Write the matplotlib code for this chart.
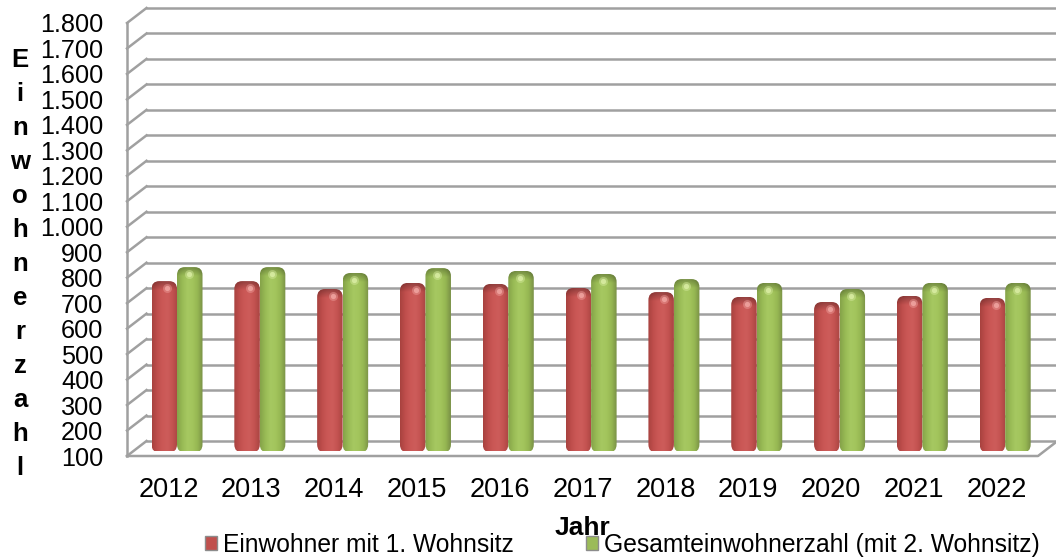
import numpy as np
import matplotlib
matplotlib.use("Agg")
import matplotlib.pyplot as plt
from matplotlib.colors import LinearSegmentedColormap
from matplotlib.patches import FancyBboxPatch, Patch

plt.rcParams["font.family"] = ["Liberation Sans", "DejaVu Sans"]

# Datos
years = ["2012", "2013", "2014", "2015", "2016", "2017", "2018", "2019", "2020", "2021", "2022"]
erstwohnsitz = [765, 765, 734, 758, 754, 738, 722, 703, 683, 707, 699]
gesamt = [820, 820, 797, 816, 805, 793, 773, 758, 734, 758, 758]
y_ticks = list(range(100, 1900, 100))
y_labels = [f"{v:,}".replace(",", ".") for v in y_ticks]
y_title = "Einwohnerzahl"
x_title = "Jahr"
series_names = ["Einwohner mit 1. Wohnsitz", "Gesamteinwohnerzahl (mit 2. Wohnsitz)"]

W, H = 1056, 557
fig = plt.figure(figsize=(W / 100, H / 100), dpi=100)
ax = fig.add_axes([127 / W, 1 - 456 / H, (1038 - 127) / W, (456 - 23) / H])
ax.set_xlim(-0.5, 10.5)
ax.set_ylim(100, 1800)

px_x = (1038 - 127) / 11
px_y = (456 - 23) / 1700

# Rejilla con profundidad
gray = "#a0a0a0"
back_x = 19.5 / px_x
back_y = 15 / px_y
for t in y_ticks:
    ax.plot([-0.5 + back_x, 10.5 + back_x], [t + back_y, t + back_y], color=gray, lw=1.8, clip_on=False, zorder=1)
    ax.plot([-0.5, -0.5 + back_x], [t, t + back_y], color=gray, lw=1.8, clip_on=False, zorder=1)
ax.plot([-0.5, -0.5], [100, 1800], color=gray, lw=1.8, clip_on=False, zorder=2)
ax.plot([-0.5, 10.5, 10.5 + back_x], [100, 100, 100 + back_y], color=gray, lw=1.8, clip_on=False, zorder=2)

# Barras tipo cilindro
red_cmap = LinearSegmentedColormap.from_list("r", ["#a8423f", "#bf4e4c", "#cb5856", "#cd5c5a", "#c35250", "#a94542"])
green_cmap = LinearSegmentedColormap.from_list("g", ["#85a349", "#98ba55", "#a6c861", "#a3c55d", "#96b752", "#7a9147"])
grad = np.linspace(0, 1, 64).reshape(1, -1)
cap = np.zeros((32, 1, 4))
cap[:, 0, 3] = np.linspace(0.28, 0, 32)

bar_w = 25.5 / px_x
bar_dx = 8.6 / px_x
bar_dy = 5.5 / px_y
rx = 8 / px_x
cap_h = 9 / px_y
foot = 2 / px_y


def draw_bar(x0, value, cmap, shine, shine_at, z):
    top = value + bar_dy
    base = 100 + bar_dy
    # la forma baja un poco bajo la base para que el pie quede casi plano
    shape = FancyBboxPatch((x0, base - foot), bar_w, top - base + foot, boxstyle=f"round,pad=0,rounding_size={rx}",
                           mutation_aspect=px_x / px_y, transform=ax.transData, fc="none", ec="none")
    ax.add_patch(shape)
    im = ax.imshow(grad, cmap=cmap, extent=[x0, x0 + bar_w, base, top], aspect="auto",
                   interpolation="bilinear", zorder=z)
    im.set_clip_path(shape)
    im2 = ax.imshow(cap, extent=[x0, x0 + bar_w, top - cap_h, top], aspect="auto",
                    interpolation="bilinear", zorder=z + 0.05)
    im2.set_clip_path(shape)
    sx = x0 + bar_w * shine_at
    sy = top - 7 / px_y
    ax.scatter([sx], [sy], s=42, color=shine, alpha=0.4, linewidths=0, zorder=z + 0.1)
    ax.scatter([sx], [sy], s=14, color=shine, alpha=0.8, linewidths=0, zorder=z + 0.2)


for i in range(len(years)):
    draw_bar(i + bar_dx - bar_w, erstwohnsitz[i], red_cmap, "#f2a8a4", 0.62, 3)
    draw_bar(i + bar_dx, gesamt[i], green_cmap, "#dcefa6", 0.46, 4)

ax.set_xlim(-0.5, 10.5)
ax.set_ylim(100, 1800)

# Ejes y textos
for s in ax.spines.values():
    s.set_visible(False)
ax.patch.set_alpha(0)
ax.set_xticks(range(len(years)), years, fontsize=19.5)
ax.set_yticks(y_ticks, y_labels, fontsize=18.2)
ax.tick_params(length=0)
ax.tick_params(axis="x", pad=15)
ax.tick_params(axis="y", pad=17)

fig.text(20 / W, 1 - 264 / H, "\n".join(y_title), fontsize=18.5, fontweight="bold", ha="center", va="center", linespacing=1.53)
fig.text(582 / W, 1 - 535 / H, x_title, fontsize=19, fontweight="bold", ha="center", va="baseline")

handles = [Patch(fc="#c0504d", ec="#8c8c8c"), Patch(fc="#9bbb59", ec="#8c8c8c")]
fig.legend(handles, series_names, ncol=2, loc="center left", bbox_to_anchor=(205 / W, 1 - 545 / H), frameon=False,
           fontsize=17.7, handlelength=0.49, handleheight=0.49, handletextpad=0.245, columnspacing=2.93,
           borderpad=0, borderaxespad=0)

fig.savefig("out.png", dpi=100)
